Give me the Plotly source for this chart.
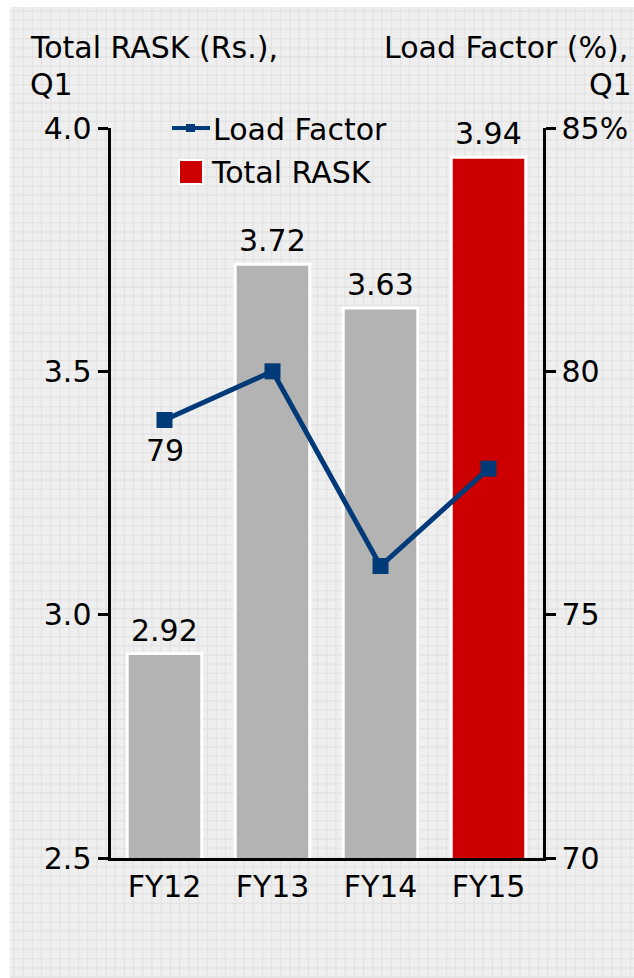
import plotly.graph_objects as go

# Quarterly (Q1) figures by fiscal year
years = ["FY12", "FY13", "FY14", "FY15"]
total_rask = [2.92, 3.72, 3.63, 3.94]          # Rs.
load_factor = [79, 80, 76, 78]                 # %
labelled_lf = [0]                              # points whose load factor is printed
bar_colors = ["#b3b3b3", "#b3b3b3", "#b3b3b3", "#cc0000"]

rask_ticks = [2.5, 3.0, 3.5, 4.0]
rask_ticktext = ["2.5", "3.0", "3.5", "4.0"]
lf_ticks = [70, 75, 80, 85]
lf_ticktext = ["70", "75", "80", "85%"]

W, H = 634, 978
FONT = "DejaVu Sans, Verdana, sans-serif"
FS = 30
NAVY = "#003a78"


def px(x):
    return x / W


def py(y):
    return 1 - y / H


fig = go.Figure()

fig.add_trace(go.Bar(
    x=years, y=total_rask, name="Total RASK",
    marker=dict(color=bar_colors, line=dict(color="white", width=3)),
    width=0.69, showlegend=False,
))

fig.add_trace(go.Scatter(
    x=years, y=load_factor, name="Load Factor", yaxis="y2",
    mode="lines+markers",
    line=dict(color=NAVY, width=5),
    marker=dict(symbol="square", size=16, color=NAVY),
    cliponaxis=False, showlegend=False,
))

# Graph-paper background: light fill with a fine grid of lines
shapes = [dict(type="rect", xref="paper", yref="paper",
               x0=px(10), x1=1, y0=0, y1=py(7),
               fillcolor="#efefef", line=dict(width=0), layer="below")]
step = 9.2
path = []
x = 14.0
while x < W:
    path.append(f"M{px(x):.5f},0 L{px(x):.5f},{py(7):.5f}")
    x += step
y = 11.0
while y < H:
    path.append(f"M{px(10):.5f},{py(y):.5f} L1,{py(y):.5f}")
    y += step
shapes.append(dict(type="path", xref="paper", yref="paper", path=" ".join(path),
                   line=dict(color="#e3e3e3", width=1.3), layer="below"))

# Legend drawn as shapes + labels
shapes.append(dict(type="line", xref="paper", yref="paper",
                   x0=px(172), x1=px(210), y0=py(128), y1=py(128),
                   line=dict(color=NAVY, width=4)))
shapes.append(dict(type="rect", xref="paper", yref="paper",
                   x0=px(186), x1=px(195), y0=py(124), y1=py(132),
                   fillcolor=NAVY, line=dict(width=0)))
shapes.append(dict(type="rect", xref="paper", yref="paper",
                   x0=px(179), x1=px(203), y0=py(184), y1=py(160),
                   fillcolor="#cc0000", line=dict(color="white", width=2)))

annotations = [
    dict(text="Load Factor", x=px(211), y=py(129), xanchor="left", yanchor="middle"),
    dict(text="Total RASK", x=px(209), y=py(172), xanchor="left", yanchor="middle"),
    dict(text="Total RASK (Rs.),", x=px(28), y=py(47), xanchor="left", yanchor="middle"),
    dict(text="Q1", x=px(28), y=py(85), xanchor="left", yanchor="middle"),
    dict(text="Load Factor (%),", x=px(630), y=py(47), xanchor="right", yanchor="middle"),
    dict(text="Q1", x=px(634), y=py(85), xanchor="right", yanchor="middle"),
]
for a in annotations:
    a.update(xref="paper", yref="paper")

# Value labels above bars
for cat, v in zip(years, total_rask):
    annotations.append(dict(x=cat, y=v, xref="x", yref="y", text=f"{v:.2f}",
                            yanchor="bottom", yshift=4))
# Load factor value below its marker
for i in labelled_lf:
    annotations.append(dict(x=years[i], y=load_factor[i], xref="x", yref="y2",
                            text=f"{load_factor[i]}", yanchor="top", yshift=-11))

for a in annotations:
    a.update(showarrow=False, font=dict(size=FS, color="black", family=FONT))

axis_common = dict(showline=True, linecolor="black", linewidth=3,
                   showgrid=False, zeroline=False, automargin=False,
                   tickfont=dict(size=FS, color="black", family=FONT))

fig.update_layout(
    width=W, height=H,
    margin=dict(l=0, r=0, t=0, b=0, pad=0, autoexpand=False),
    paper_bgcolor="white", plot_bgcolor="rgba(0,0,0,0)",
    font=dict(family=FONT, size=FS, color="black"),
    showlegend=False,
    xaxis=dict(domain=[px(110.5), px(542.5)], range=[-0.5, 3.5],
               ticks="", **axis_common),
    yaxis=dict(domain=[py(858), py(128)], range=[2.5, 4.0],
               tickvals=rask_ticks, ticktext=rask_ticktext,
               ticks="outside", ticklen=10, tickwidth=3, tickcolor="black",
               **axis_common),
    yaxis2=dict(overlaying="y", side="right", anchor="x", range=[70, 85],
                tickvals=lf_ticks, ticktext=lf_ticktext,
                ticks="outside", ticklen=10, tickwidth=3, tickcolor="black",
                **axis_common),
    shapes=shapes,
    annotations=annotations,
)

fig.write_html("out.html")
